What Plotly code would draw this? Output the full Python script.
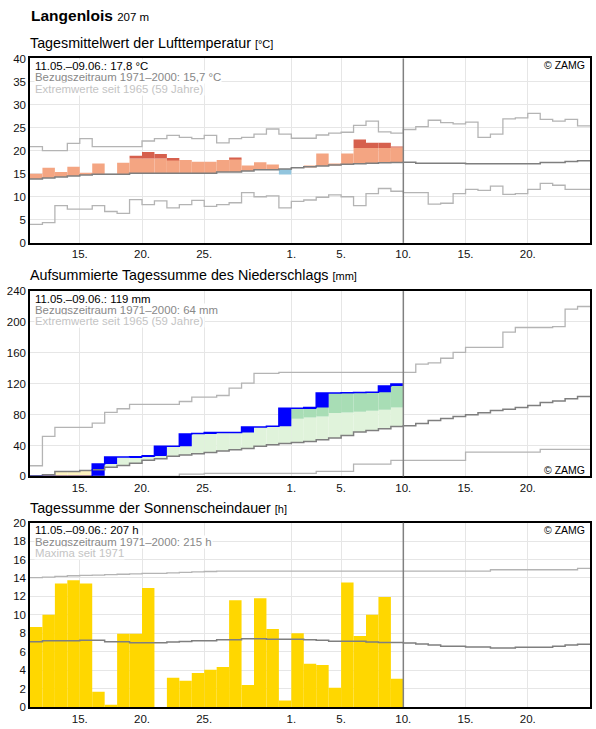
import plotly.graph_objects as go

# ---------------- data (day index 0 = 11 May, 30 = 10 June, 45 = 25 June) ----------------
tick_vals = [4, 9, 14, 21, 25, 30, 35, 40]
tick_text = ["15.", "20.", "25.", "1.", "5.", "10.", "15.", "20."]

# Temperature (°C)
temp_obs = [15.0, 16.3, 15.4, 16.5, 15.2, 17.2, 14.9, 17.4, 18.9, 19.7,
            19.3, 18.4, 18.0, 17.6, 17.6, 18.0, 18.4, 16.8, 17.5, 17.0,
            14.85, 16.3, 16.75, 19.4, 17.2, 19.4, 22.4, 21.7, 21.7, 20.9]
temp_upper = [17.1, 17.3, 17.5, 17.7, 17.9, 18.1, 18.1, 18.1, 18.3, 18.3,
              18.3, 18.0, 18.3, 18.3, 18.3, 18.6, 18.2, 18.8, 19.0, 19.0,
              19.2, 19.5, 19.7, 19.9, 20.1, 20.2, 20.6, 20.6, 20.6, 20.7]
temp_mean = [13.86, 14.07, 14.3, 14.5, 14.7, 14.9, 14.9, 14.9, 15.1, 15.1,
             15.1, 15.1, 15.1, 15.1, 15.1, 15.4, 15.4, 15.6, 15.85, 15.85,
             16.05, 16.3, 16.5, 16.7, 16.9, 17.05, 17.15, 17.3, 17.4, 17.45,
             17.5, 17.3, 17.3, 17.3, 17.3, 17.15, 17.15, 17.15, 17.15, 17.15,
             17.15, 17.45, 17.45, 17.65, 17.8]
temp_max = [20.9, 20.0, 20.0, 21.6, 22.6, 20.9, 20.9, 20.9, 20.9, 22.1,
            22.6, 23.3, 22.9, 22.6, 23.3, 21.7, 22.6, 22.9, 23.6, 24.7,
            23.6, 22.7, 22.7, 23.4, 23.8, 24.0, 25.5, 26.4, 24.1, 23.8,
            24.6, 25.2, 26.6, 26.1, 25.8, 26.2, 22.9, 23.6, 26.9, 27.1,
            28.1, 26.8, 26.4, 26.8, 25.4]
temp_min = [4.0, 4.4, 8.1, 7.3, 7.3, 8.1, 6.8, 6.4, 9.4, 8.3,
            9.1, 7.6, 8.3, 9.2, 7.9, 8.3, 8.7, 10.9, 10.0, 10.2,
            7.6, 9.0, 9.3, 9.9, 10.4, 10.0, 8.1, 10.7, 11.8, 11.2,
            10.9, 10.9, 8.4, 8.6, 10.7, 11.6, 11.4, 12.3, 10.5, 10.7,
            11.6, 12.9, 12.5, 11.6, 11.6]

# Precipitation, accumulated (mm)
prec_obs = [0, 0, 0, 0, 0, 16, 25, 25, 25.5, 26.5,
            39, 39, 55, 55.6, 57, 57, 57, 64, 64, 65,
            88.4, 88.4, 89.3, 108, 108, 108.4, 108.7, 109, 117, 119.5]
prec_upper = [31, 32, 36.5, 36.5, 37.8, 38.6, 42, 44, 47, 51,
              53, 56, 57.6, 59.3, 61, 63, 64.5, 66, 69, 71,
              72.7, 74.6, 76.4, 77.7, 82, 82.8, 83.7, 85, 86.3, 89.3]
prec_lower = [0, 0.8, 1.0, 1.0, 1.0]
prec_mean = [1, 2, 6.5, 6.5, 7.8, 8.6, 12, 14, 17, 21,
             23, 26, 27.6, 29.3, 31, 33, 34.5, 36, 39, 41,
             42.7, 44, 45.3, 47.5, 49.6, 53, 57.4, 59.5, 61.7, 64.5,
             65.6, 68.6, 72.5, 75, 77.7, 79.8, 82.4, 85.4, 87.1, 89.3,
             91.9, 95.8, 97.5, 100.5, 103.5]
prec_max = [13.8, 51.8, 63.4, 63.4, 63.4, 69, 82.8, 87.6, 93.2, 93.2,
            93.2, 93.2, 97, 102.7, 102.7, 104.8, 114.3, 120.8, 133.3, 133.3,
            134.6, 134.6, 134.6, 134.6, 134.6, 134.6, 134.6, 134.6, 134.6, 134.6,
            134.6, 145.4, 147, 153, 160.5, 167, 167, 167, 186.8, 192.8,
            192.8, 192.8, 194, 216.6, 220]
prec_min = [0, 0, 0, 0, 0, 0, 0, 0, 0, 0,
            0, 0, 3.0, 3.0, 3.9, 3.9, 3.9, 3.9, 3.9, 3.9,
            3.9, 3.9, 3.9, 6.5, 6.5, 6.5, 16, 16, 16, 20.7,
            20.7, 20.7, 20.7, 20.7, 20.7, 31.5, 31.5, 31.5, 31.5, 31.5,
            31.5, 35, 35, 35, 35]

# Sunshine duration (h)
sun_obs = [8.67, 10.0, 13.4, 13.74, 13.4, 1.65, 0.25, 7.95, 7.95, 12.9,
           0, 3.17, 2.85, 3.7, 4.03, 4.35, 11.58, 2.4, 11.8, 8.45,
           0.7, 8.0, 4.68, 4.57, 2.1, 13.5, 7.7, 10.0, 11.94, 3.06]
sun_mean = [7.09, 7.2, 7.2, 7.2, 7.23, 7.23, 7.09, 7.09, 6.98, 6.98,
            6.98, 7.05, 7.1, 7.2, 7.2, 7.3, 7.3, 7.4, 7.4, 7.34,
            7.34, 7.34, 7.3, 7.23, 7.12, 7.12, 7.12, 7.05, 7.0, 7.0,
            6.94, 6.83, 6.73, 6.58, 6.58, 6.5, 6.5, 6.4, 6.4, 6.47,
            6.47, 6.47, 6.58, 6.73, 6.8]
sun_max = [14.03, 14.1, 14.17, 14.24, 14.27, 14.3, 14.37, 14.4, 14.45, 14.5,
           14.5, 14.55, 14.6, 14.65, 14.7] + [14.75] * 22 + [14.89] * 7 + [15.04]

# ---------------- styling ----------------
FONT = "Liberation Sans, Arial, sans-serif"
C_ORANGE = "#F4A582"
C_RED = "#D6604D"
C_BLUE_T = "#92C5DE"
C_GREEN_L = "#E0F3DB"
C_GREEN_M = "#A8DDB5"
C_YELLOW = "#FFF3BF"
C_YEL_D = "#F9C46B"
C_PREC = "#0000FF"
C_SUN = "#FFD700"
C_MEAN = "#7f7f7f"
C_EXT = "#b4b4b4"
GRID = "#e6e6e6"

W, H = 596, 729
ML, MR, MT, MB = 30, 4, 58, 18
PW = W - ML - MR
PH = H - MT - MB


def py(ypix):
    return (H - MB - ypix) / PH


def px(xpix):
    return (xpix - ML) / PW


panels = [  # (top pixel, bottom pixel)
    (58.5, 244),
    (292.5, 479),
    (525.5, 711),
]

fig = go.Figure()


def bars(ax, bases, heights, color):
    xs, bs, hs = [], [], []
    for i, (b, h) in enumerate(zip(bases, heights)):
        if h is not None and h > 0:
            xs.append(i + 0.5)
            bs.append(b)
            hs.append(h)
    fig.add_trace(go.Bar(x=xs, y=hs, base=bs, width=1,
                         marker=dict(color=color, line=dict(width=0)),
                         opacity=1, hoverinfo="skip",
                         xaxis="x" + ax, yaxis="y" + ax))


def step(ax, vals, color, width):
    n = len(vals)
    fig.add_trace(go.Scatter(x=list(range(n)) + [n], y=list(vals) + [vals[-1]],
                             mode="lines", line=dict(color=color, width=width, shape="hv"),
                             hoverinfo="skip", xaxis="x" + ax, yaxis="y" + ax))


# --- temperature panel ---
n = len(temp_obs)
bars("", [temp_mean[i] if temp_obs[i] > temp_mean[i] else 0 for i in range(n)],
     [min(temp_obs[i], temp_upper[i]) - temp_mean[i] if temp_obs[i] > temp_mean[i] else 0 for i in range(n)],
     C_ORANGE)
bars("", [temp_upper[i] for i in range(n)],
     [temp_obs[i] - temp_upper[i] if temp_obs[i] > temp_upper[i] else 0 for i in range(n)],
     C_RED)
bars("", [temp_obs[i] for i in range(n)],
     [temp_mean[i] - temp_obs[i] if temp_obs[i] < temp_mean[i] else 0 for i in range(n)],
     C_BLUE_T)
step("", temp_max, C_EXT, 1.3)
step("", temp_min, C_EXT, 1.3)
step("", temp_mean, C_MEAN, 1.5)

# --- precipitation panel ---
n = len(prec_obs)
bars("2", [prec_mean[i] for i in range(n)],
     [min(prec_obs[i], prec_upper[i]) - prec_mean[i] if prec_obs[i] > prec_mean[i] else 0 for i in range(n)],
     C_GREEN_L)
bars("2", [prec_upper[i] for i in range(n)],
     [prec_obs[i] - prec_upper[i] if prec_obs[i] > prec_upper[i] else 0 for i in range(n)],
     C_GREEN_M)
bars("2", [prec_obs[i] for i in range(n)],
     [prec_mean[i] - prec_obs[i] if prec_obs[i] < prec_mean[i] else 0 for i in range(n)],
     C_YELLOW)
bars("2", [prec_obs[i] for i in range(len(prec_lower))],
     [prec_lower[i] - prec_obs[i] for i in range(len(prec_lower))],
     C_YEL_D)
prev = [0] + prec_obs[:-1]
bars("2", prev, [prec_obs[i] - prev[i] for i in range(n)], C_PREC)
step("2", prec_max, C_EXT, 1.3)
step("2", prec_min, C_EXT, 1.3)
step("2", prec_mean, C_MEAN, 1.5)
step("2", prec_obs, C_PREC, 1.5)

# --- sunshine panel ---
bars("3", [0] * len(sun_obs), sun_obs, C_SUN)
step("3", sun_max, C_EXT, 1.3)
step("3", sun_mean, C_MEAN, 1.5)

# ---------------- layout ----------------
axis_common = dict(showgrid=True, gridcolor=GRID, gridwidth=1, zeroline=False,
                   showline=True, mirror=True, linecolor="#000", linewidth=1.5,
                   ticks="", tickfont=dict(family=FONT, size=11.5, color="#111"))
yranges = [(0, 40, 5), (0, 240, 40), (0, 20, 2)]
layout = dict(width=W, height=H, margin=dict(l=ML, r=MR, t=MT, b=MB, pad=0),
              paper_bgcolor="white", plot_bgcolor="white", showlegend=False,
              barmode="overlay", font=dict(family=FONT, color="#000"))
for k, ((top, bot), (y0, y1, dt)) in enumerate(zip(panels, yranges)):
    sx = "" if k == 0 else str(k + 1)
    layout["xaxis" + sx] = dict(axis_common, domain=[0, 1], range=[0, 45],
                                tickmode="array", tickvals=tick_vals, ticktext=tick_text,
                                anchor="y" + sx)
    layout["yaxis" + sx] = dict(axis_common, domain=[py(bot), py(top)], range=[y0, y1],
                                tickmode="linear", tick0=0, dtick=dt, anchor="x" + sx)
fig.update_layout(**layout)

# vertical "today" line
for k in range(3):
    sx = "" if k == 0 else str(k + 1)
    fig.add_shape(type="line", x0=30, x1=30, y0=0, y1=1, xref="x" + sx,
                  yref="y" + sx + " domain", line=dict(color="#808080", width=1.5), layer="above")

ann = []


def text(x, y, s, size, color="#000", xanchor="left", bg=None):
    d = dict(x=px(x), y=py(y), xref="paper", yref="paper", text=s, showarrow=False,
             xanchor=xanchor, yanchor="middle", font=dict(family=FONT, size=size, color=color),
             borderpad=0)
    if bg:
        d["bgcolor"] = bg
    ann.append(d)


text(30, 15, "<b>Langenlois</b> <span style='font-size:11.5px'>207 m</span>", 15.5)
text(29, 42.5, "Tagesmittelwert der Lufttemperatur <span style='font-size:11px'>[°C]</span>", 14.3)
text(29, 276.5, "Aufsummierte Tagessumme des Niederschlags <span style='font-size:11px'>[mm]</span>", 14.3)
text(29, 510.5, "Tagessumme der Sonnenscheindauer <span style='font-size:11px'>[h]</span>", 14.3)

info = [
    ("11.05.–09.06.: 17,8 °C", "Bezugszeitraum 1971–2000: 15,7 °C", "Extremwerte seit 1965 (59 Jahre)"),
    ("11.05.–09.06.: 119 mm", "Bezugszeitraum 1971–2000: 64 mm", "Extremwerte seit 1965 (59 Jahre)"),
    ("11.05.–09.06.: 207 h", "Bezugszeitraum 1971–2000: 215 h", "Maxima seit 1971"),
]
for (top, bot), lines in zip(panels, info):
    for j, (s, c) in enumerate(zip(lines, ["#000", "#888888", "#c4c4c4"])):
        text(34, top + 7.6 + 11.4 * j, s, 11.4, color=c, bg="white")

text(588, 65.5, "© ZAMG", 10.5, xanchor="right")
text(588, 472.5, "© ZAMG", 10.5, xanchor="right")
text(588, 533, "© ZAMG", 10.5, xanchor="right")

fig.update_layout(annotations=ann)
fig.write_html("out.html")
